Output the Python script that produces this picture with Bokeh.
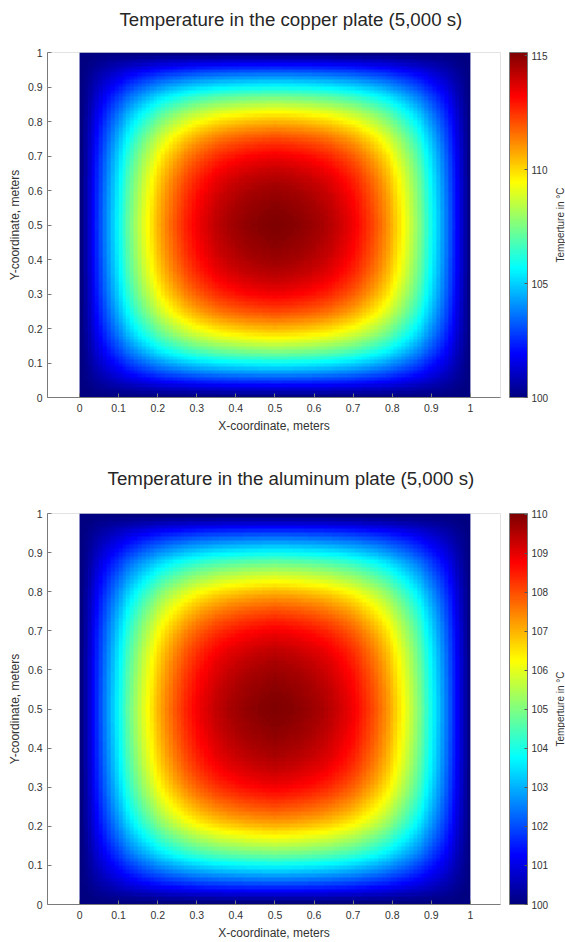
import numpy as np
from bokeh.plotting import figure
from bokeh.layouts import column, row
from bokeh.models import (LinearColorMapper, ColorBar, FixedTicker, PrintfTickFormatter,
                          Range1d)
from bokeh.core.properties import value
from bokeh.embed import file_html
from bokeh.resources import INLINE

# Positions along the plate centre line (0 .. 0.5 m, symmetric about 0.5 m)
half_positions = [round(0.01 * i, 2) for i in range(51)]

# Temperature (y = 0.5 m) of the copper plate, degC
copper_half = [100.00, 100.63, 101.25, 101.88, 102.49, 103.10, 103.71, 104.30, 104.89, 105.45,
               106.01, 106.55, 107.08, 107.59, 108.08, 108.56, 109.02, 109.46, 109.87, 110.27,
               110.65, 111.01, 111.35, 111.67, 111.98, 112.26, 112.52, 112.76, 112.99, 113.20,
               113.42, 113.60, 113.77, 113.93, 114.07, 114.20, 114.32, 114.43, 114.53, 114.61,
               114.69, 114.77, 114.83, 114.89, 114.94, 114.98, 115.02, 115.06, 115.09, 115.12,
               115.14]

# Temperature (y = 0.5 m) of the aluminum plate, degC
aluminum_half = [100.00, 100.42, 100.83, 101.24, 101.64, 102.05, 102.45, 102.84, 103.23, 103.60,
                 103.97, 104.32, 104.67, 105.01, 105.33, 105.65, 105.95, 106.24, 106.51, 106.78,
                 107.03, 107.27, 107.49, 107.70, 107.91, 108.09, 108.26, 108.42, 108.57, 108.71,
                 108.86, 108.98, 109.09, 109.19, 109.29, 109.37, 109.45, 109.52, 109.59, 109.64,
                 109.70, 109.75, 109.79, 109.83, 109.87, 109.90, 109.93, 109.96, 109.98, 110.00,
                 110.02]

axis_ticks = [0, 0.1, 0.2, 0.3, 0.4, 0.5, 0.6, 0.7, 0.8, 0.9, 1]
copper_cb_ticks = [100, 105, 110, 115]
aluminum_cb_ticks = [100, 101, 102, 103, 104, 105, 106, 107, 108, 109, 110]

titles = ["Temperature in the copper plate (5,000 s)",
          "Temperature in the aluminum plate (5,000 s)"]
x_label = "X-coordinate, meters"
y_label = "Y-coordinate, meters"
cb_label = "Temperture in \u00b0C"
T_wall = 100.0


def jet_palette(n=256):
    cols = []
    for i in range(n):
        t = i / (n - 1)
        r = min(max(1.5 - abs(4 * t - 3), 0), 1)
        g = min(max(1.5 - abs(4 * t - 2), 0), 1)
        b = min(max(1.5 - abs(4 * t - 1), 0), 1)
        cols.append("#%02x%02x%02x" % (int(round(r * 255)), int(round(g * 255)), int(round(b * 255))))
    return cols


JET = jet_palette()
FONT = "Liberation Sans"
FULL_W = 565
MAIN_W = 551
SIDE_W = FULL_W - MAIN_W
TITLE_H = 40


def field_from_profile(half):
    prof = np.array(half + half[-2::-1], dtype=float)
    ex = prof - T_wall
    return T_wall + np.outer(ex, ex) / ex.max()


def bare_figure(width, height, top=0, bottom=0):
    f = figure(width=width, height=height, x_range=Range1d(0, 1), y_range=Range1d(0, 1),
               output_backend="svg", toolbar_location=None,
               min_border_left=0, min_border_right=0, min_border_top=top, min_border_bottom=bottom)
    f.axis.visible = False
    f.grid.visible = False
    f.outline_line_color = None
    return f


def make_plot(title, half, cb_ticks, height, top, bottom, title_y):
    # title strip
    t = bare_figure(FULL_W, TITLE_H)
    t.text(x=[0.514], y=[title_y], text=[title], text_align="center", text_baseline="middle",
           text_font=value(FONT), text_font_size="18.7px", text_color="#262626")

    ph = height - TITLE_H
    p = figure(width=MAIN_W, height=ph, x_range=Range1d(-0.082, 1.077), y_range=Range1d(0, 1),
               output_backend="svg", toolbar_location=None,
               min_border_left=47, min_border_right=MAIN_W - 500,
               min_border_top=top - TITLE_H, min_border_bottom=bottom)
    field = field_from_profile(half)
    mapper = LinearColorMapper(palette=JET, low=T_wall, high=float(field.max()))
    p.image(image=[field], x=0, y=0, dw=1, dh=1, color_mapper=mapper)

    p.xgrid.visible = False
    p.ygrid.visible = False
    p.outline_line_color = "#e3e3e3"
    p.background_fill_color = "white"

    for ax in (p.xaxis[0], p.yaxis[0]):
        ax.ticker = FixedTicker(ticks=axis_ticks)
        ax.formatter = PrintfTickFormatter(format="%g")
        ax.major_tick_in = 4
        ax.major_tick_out = 0
        ax.minor_tick_line_color = None
        ax.axis_line_color = "#7a7a7a"
        ax.major_tick_line_color = "#7a7a7a"
        ax.major_label_text_font = FONT
        ax.major_label_text_font_size = "10.5px"
        ax.major_label_text_color = "#333333"
        ax.axis_label_text_font = FONT
        ax.axis_label_text_font_size = "12px"
        ax.axis_label_text_font_style = "normal"
        ax.axis_label_text_color = "#333333"
    p.xaxis.axis_label = x_label
    p.yaxis.axis_label = y_label
    p.xaxis.major_label_standoff = 6
    p.yaxis.major_label_standoff = 5
    p.xaxis.axis_label_standoff = 4
    p.yaxis.axis_label_standoff = 3

    cb = ColorBar(color_mapper=mapper, ticker=FixedTicker(ticks=cb_ticks),
                  formatter=PrintfTickFormatter(format="%g"), width=18,
                  padding=0, margin=0, location=(9, 0),
                  major_label_text_font=FONT, major_label_text_font_size="10px",
                  major_label_text_color="#333333",
                  major_tick_line_color="#555555", major_tick_in=3, major_tick_out=0,
                  minor_tick_line_color=None,
                  bar_line_color="#777777", border_line_color=None,
                  background_fill_color=None, label_standoff=4)
    p.add_layout(cb, "right")

    # narrow companion figure carrying the vertical colour-bar label
    s = bare_figure(SIDE_W, ph, top - TITLE_H, bottom)
    s.text(x=[0.62], y=[0.5], text=[cb_label], angle=np.pi / 2, text_align="center",
           text_baseline="middle", text_font=value(FONT), text_font_size="10px",
           text_color="#333333")
    return column(t, row(p, s, spacing=0), spacing=0)


p1 = make_plot(titles[0], copper_half, copper_cb_ticks, 460, 52, 63, 0.53)
p2 = make_plot(titles[1], aluminum_half, aluminum_cb_ticks, 482, 53, 37, 0.55)
layout = column(p1, p2, spacing=0)

open("out.html", "w").write(file_html(layout, INLINE))
